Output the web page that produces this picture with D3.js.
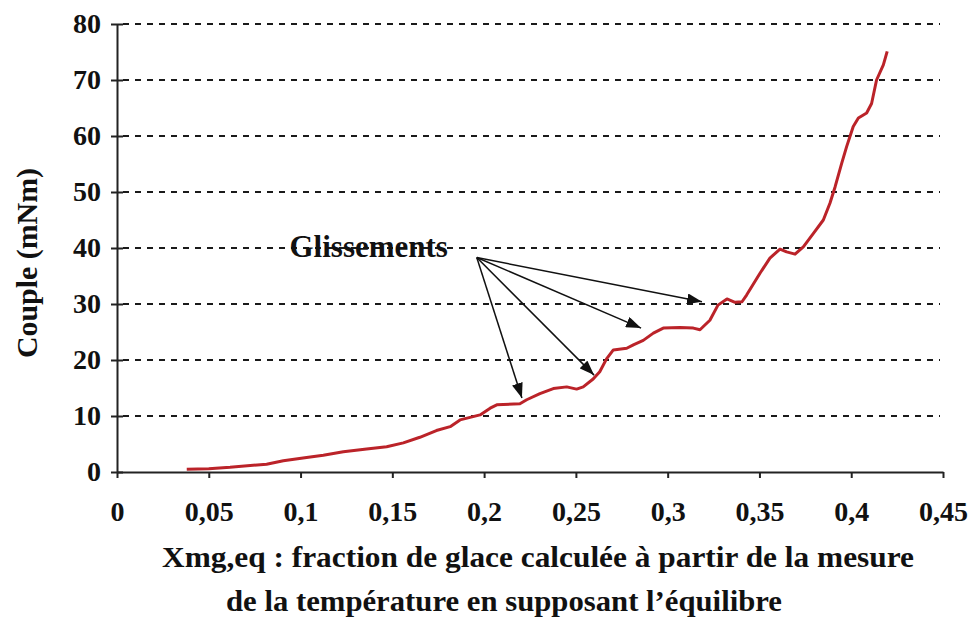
<!DOCTYPE html>
<html>
<head>
<meta charset="utf-8">
<script src="https://cdn.jsdelivr.net/npm/d3@7"></script>
<style>
  body { margin: 0; background: #fff; }
  svg text { font-family: "Liberation Serif", "DejaVu Serif", serif; }
</style>
</head>
<body>
<div id="chart"></div>
<script>
const xValues = [0.038, 0.050, 0.0616, 0.0815, 0.0906, 0.1033, 0.1124, 0.1233, 0.136, 0.1469,
  0.156, 0.165, 0.174, 0.1815, 0.1869, 0.1978, 0.2033, 0.2069, 0.2195, 0.2232,
  0.2304, 0.2377, 0.245, 0.2504, 0.254, 0.2594, 0.263, 0.2667, 0.2704, 0.2777,
  0.2813, 0.2867, 0.2922, 0.2976, 0.3067, 0.314, 0.3176, 0.323, 0.3274, 0.3323,
  0.3367, 0.3405, 0.343, 0.3503, 0.3557, 0.3612, 0.3648, 0.3694, 0.3739, 0.3794,
  0.3848, 0.3884, 0.3912, 0.3948, 0.3975, 0.4011, 0.4039, 0.4084, 0.4111, 0.4138,
  0.4175, 0.4196];
const coupleValues = [0.5, 0.6, 0.84, 1.4, 2.0, 2.6, 3.0, 3.6, 4.1, 4.5,
  5.2, 6.2, 7.4, 8.1, 9.3, 10.2, 11.4, 12.0, 12.2, 12.9,
  14.0, 14.9, 15.2, 14.8, 15.2, 16.6, 17.9, 20.2, 21.8, 22.1,
  22.7, 23.5, 24.8, 25.7, 25.8, 25.7, 25.4, 27.1, 29.8, 30.9,
  30.3, 30.4, 31.6, 35.5, 38.2, 39.8, 39.3, 38.9, 40.2, 42.6,
  45.0, 48.0, 50.9, 55.1, 58.1, 61.7, 63.2, 64.1, 65.8, 70.0,
  72.7, 75.1];

const xTicks = [0, 0.05, 0.1, 0.15, 0.2, 0.25, 0.3, 0.35, 0.4, 0.45];
const xTickLabels = ["0", "0,05", "0,1", "0,15", "0,2", "0,25", "0,3", "0,35", "0,4", "0,45"];
const yTicks = [0, 10, 20, 30, 40, 50, 60, 70, 80];

// annotation "Glissements": one origin, four arrow tips (data units)
const noteLabel = "Glissements";
const noteAt = [0.1803, 39.6];
const arrowFrom = [0.196, 38.3];
const arrowTips = [[0.2206, 13.2], [0.2599, 17.3], [0.2855, 25.7], [0.3187, 30.4]];

const yTitle = "Couple (mNm)";
const xTitle = [
  "Xmg,eq : fraction de glace calculée à partir de la mesure",
  "de la température en supposant l\u2019équilibre"
];

const width = 978, height = 626;
const margin = { top: 24, right: 35, bottom: 154, left: 117 };

let x = d3.scaleLinear().domain([0, 0.45]).range([margin.left, width - margin.right]);
let y = d3.scaleLinear().domain([0, 80]).range([height - margin.bottom, margin.top]);

const svg = d3.select("#chart")
  .append("svg")
  .attr("width", width)
  .attr("height", height)
  .style("background", "#fff");

svg.append("defs")
  .append("marker")
  .attr("id", "head")
  .attr("viewBox", "0 0 15 11")
  .attr("refX", 15)
  .attr("refY", 5.5)
  .attr("markerWidth", 15)
  .attr("markerHeight", 11)
  .attr("markerUnits", "userSpaceOnUse")
  .attr("orient", "auto")
  .append("path")
  .attr("d", "M0,0L15,5.5L0,11Z")
  .attr("fill", "#111");

// dashed gridlines
svg.append("g")
  .selectAll("line")
  .data(yTicks.filter(d => d > 0))
  .join("line")
  .attr("x1", x(0) + 6)
  .attr("x2", x(0.45) - 3)
  .attr("y1", d => y(d))
  .attr("y2", d => y(d))
  .attr("stroke", "#1a1a1a")
  .attr("stroke-width", 2)
  .attr("stroke-dasharray", "6,6");

// axes
let xAxis = svg.append("g")
  .attr("transform", `translate(0,${y(0)})`)
  .call(d3.axisBottom(x).tickValues(xTicks).tickFormat((d, i) => xTickLabels[i]).tickSize(6).tickSizeOuter(0));

let yAxis = svg.append("g")
  .attr("transform", `translate(${x(0)},0)`)
  .call(d3.axisLeft(y).tickValues(yTicks).tickSize(6).tickSizeOuter(0));

[xAxis, yAxis].forEach(a => {
  a.attr("font-family", null);
  a.select(".domain").attr("stroke", "#222").attr("stroke-width", 2);
  a.selectAll(".tick line").attr("stroke", "#222").attr("stroke-width", 2);
  a.selectAll("text")
    .attr("font-weight", "bold")
    .attr("font-size", 28)
    .attr("fill", "#111");
});
xAxis.selectAll(".tick text").attr("dy", 0).attr("y", 49);
yAxis.selectAll(".tick line").attr("x1", -6).attr("x2", 6);
yAxis.selectAll(".tick text").attr("x", -16);

// curve
let line = d3.line()
  .x(d => x(d[0]))
  .y(d => y(d[1]));

svg.append("path")
  .datum(xValues.map((v, i) => [v, coupleValues[i]]))
  .attr("fill", "none")
  .attr("stroke", "#bb2329")
  .attr("stroke-width", 3)
  .attr("stroke-linejoin", "round")
  .attr("d", line);

// arrows
svg.append("g")
  .selectAll("line")
  .data(arrowTips)
  .join("line")
  .attr("x1", x(arrowFrom[0]))
  .attr("y1", y(arrowFrom[1]))
  .attr("x2", d => x(d[0]))
  .attr("y2", d => y(d[1]))
  .attr("stroke", "#111")
  .attr("stroke-width", 1.5)
  .attr("marker-end", "url(#head)");

svg.append("text")
  .attr("x", x(noteAt[0]))
  .attr("y", y(noteAt[1]))
  .attr("text-anchor", "end")
  .attr("dominant-baseline", "middle")
  .attr("font-weight", "bold")
  .attr("font-size", 31)
  .attr("fill", "#111")
  .text(noteLabel);

// titles
svg.append("text")
  .attr("transform", `translate(37,${(y(0) + y(80)) / 2 + 15}) rotate(-90)`)
  .attr("text-anchor", "middle")
  .attr("textLength", 190)
  .attr("lengthAdjust", "spacingAndGlyphs")
  .attr("font-weight", "bold")
  .attr("font-size", 29)
  .attr("fill", "#111")
  .text(yTitle);

svg.append("g")
  .selectAll("text")
  .data(xTitle)
  .join("text")
  .attr("x", (d, i) => i === 0 ? 162 : 226)
  .attr("y", (d, i) => i === 0 ? 567 : 611)
  .attr("textLength", (d, i) => i === 0 ? 752 : 556)
  .attr("lengthAdjust", "spacingAndGlyphs")
  .attr("font-weight", "bold")
  .attr("font-size", 30)
  .attr("fill", "#111")
  .text(d => d);
</script>
</body>
</html>
